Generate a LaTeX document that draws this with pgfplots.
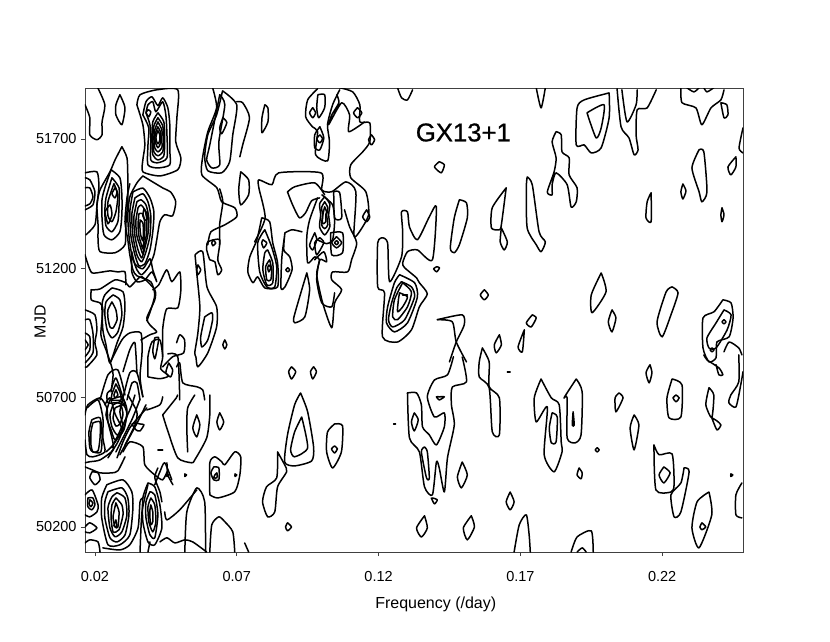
\documentclass[border=0pt]{standalone}
\usepackage{fontspec}
\setmainfont{Liberation Sans}
\newfontfamily\titlefont[FakeBold=0.7]{Liberation Sans}
\usepackage{pgfplots}
\pgfplotsset{compat=1.18}
\tikzset{ct/.style={black,line width=1.5pt,line join=round,line cap=round,smooth,tension=0.4,no markers}}
\newcommand\C[1]{\addplot[ct] coordinates {#1};}
\begin{document}
\begin{tikzpicture}
\useasboundingbox (-85pt,-89pt) rectangle (745pt,552pt);
\begin{axis}[at={(0,0)},anchor=south west,scale only axis,width=658pt,height=464pt,
 xmin=0.0165,xmax=0.2485,ymin=50103,ymax=51897,
 xtick={0.02,0.07,0.12,0.17,0.22},ytick={50200,50700,51200,51700},
 xticklabels={0.02,0.07,0.12,0.17,0.22},yticklabels={50200,50700,51200,51700},
 scaled x ticks=false,scaled y ticks=false,
 tick align=outside,xtick pos=bottom,ytick pos=left,major tick length=4pt,
 axis line style={line width=0.9pt,black!75},tick style={line width=0.7pt,black!75},
 tick label style={font=\fontsize{14.5}{16}\selectfont},
 xlabel={Frequency (/day)},ylabel={MJD},
 label style={font=\fontsize{16}{18}\selectfont},
 xlabel style={at={(axis description cs:0.533,-0.113)},anchor=center},
 ylabel style={at={(axis description cs:-0.068,0.496)},anchor=center},
 xticklabel style={yshift=-12pt},yticklabel style={xshift=-1pt},
 clip=true]
% top-left
\C{(0.0165,51832)(0.0182,51782)(0.0182,51716)(0.0207,51697)(0.0225,51716)(0.0225,51766)(0.0235,51832)(0.0210,51898)}
\C{(0.0288,51871)(0.0306,51821)(0.0295,51755)(0.0274,51793)(0.0274,51832)(0.0288,51871)}
\C{(0.0348,51832)(0.0359,51871)(0.0418,51890)(0.0492,51890)(0.0489,51782)(0.0485,51689)(0.0503,51627)(0.0492,51581)(0.0429,51557)(0.0369,51573)(0.0369,51619)(0.0376,51677)(0.0369,51755)(0.0348,51832)}
\C{(0.0369,51793)(0.0380,51844)(0.0401,51863)(0.0422,51829)(0.0439,51859)(0.0457,51821)(0.0464,51755)(0.0464,51658)(0.0464,51600)(0.0422,51588)(0.0387,51600)(0.0387,51677)(0.0390,51743)(0.0369,51793)}
\C{(0.0380,51801)(0.0387,51832)(0.0404,51844)(0.0415,51805)(0.0439,51844)(0.0450,51793)(0.0454,51716)(0.0454,51627)(0.0422,51608)(0.0397,51619)(0.0397,51697)(0.0394,51755)(0.0380,51801)}
\C{(0.0380,51801)(0.0387,51813)(0.0397,51805)(0.0390,51786)(0.0380,51801)}
\C{(0.0422,51801)(0.0443,51766)(0.0446,51697)(0.0443,51635)(0.0422,51619)(0.0404,51639)(0.0401,51704)(0.0404,51766)(0.0422,51801)}
\C{(0.0422,51782)(0.0439,51751)(0.0443,51697)(0.0439,51650)(0.0422,51635)(0.0408,51650)(0.0404,51704)(0.0408,51751)(0.0422,51782)}
\C{(0.0422,51766)(0.0436,51735)(0.0436,51697)(0.0436,51666)(0.0422,51650)(0.0411,51666)(0.0408,51704)(0.0411,51735)(0.0422,51766)}
\C{(0.0422,51747)(0.0432,51724)(0.0432,51697)(0.0429,51677)(0.0422,51666)(0.0415,51681)(0.0411,51704)(0.0415,51728)(0.0422,51747)}
\C{(0.0422,51732)(0.0429,51716)(0.0429,51697)(0.0425,51685)(0.0422,51681)(0.0418,51689)(0.0415,51704)(0.0418,51720)(0.0422,51732)}
% left peak 0.028, 51450
\C{(0.0295,51670)(0.0313,51627)(0.0316,51550)(0.0316,51465)(0.0309,51368)(0.0306,51291)(0.0271,51260)(0.0218,51264)(0.0211,51310)(0.0211,51368)(0.0207,51445)(0.0218,51503)(0.0253,51573)(0.0271,51619)(0.0295,51670)}
\C{(0.0257,51581)(0.0288,51550)(0.0295,51484)(0.0295,51407)(0.0288,51341)(0.0260,51310)(0.0232,51329)(0.0225,51395)(0.0225,51465)(0.0235,51511)(0.0257,51581)}
\C{(0.0260,51550)(0.0285,51511)(0.0285,51445)(0.0281,51380)(0.0260,51341)(0.0239,51364)(0.0235,51418)(0.0239,51472)(0.0260,51550)}
\C{(0.0267,51527)(0.0281,51484)(0.0274,51418)(0.0260,51380)(0.0246,51403)(0.0246,51457)(0.0267,51527)}
\C{(0.0271,51511)(0.0278,51496)(0.0271,51472)(0.0260,51488)(0.0271,51511)}
\C{(0.0235,51418)(0.0253,51445)(0.0260,51407)(0.0246,51372)(0.0235,51418)}
\C{(0.0165,51550)(0.0182,51542)(0.0200,51496)(0.0193,51445)(0.0165,51426)}
\C{(0.0165,51511)(0.0182,51511)(0.0193,51476)(0.0182,51449)(0.0165,51441)}
\C{(0.0165,51569)(0.0207,51573)(0.0214,51518)(0.0207,51441)(0.0200,51368)(0.0168,51329)}
\C{(0.0165,51252)(0.0176,51213)(0.0190,51182)(0.0228,51186)(0.0253,51190)(0.0281,51186)(0.0306,51186)(0.0309,51136)}
% dense column 0.037, 51300
\C{(0.0323,51527)(0.0313,51472)(0.0306,51380)(0.0316,51310)(0.0323,51252)(0.0334,51194)(0.0348,51171)(0.0397,51148)(0.0411,51097)(0.0397,51039)(0.0383,50997)}
\C{(0.0369,51557)(0.0348,51530)(0.0323,51476)(0.0316,51403)(0.0320,51325)(0.0330,51252)(0.0348,51194)(0.0365,51175)(0.0390,51206)(0.0408,51252)(0.0418,51310)(0.0429,51380)(0.0446,51407)(0.0474,51403)(0.0485,51457)(0.0467,51495)(0.0440,51510)(0.0369,51557)}
\C{(0.0334,51495)(0.0323,51418)(0.0327,51325)(0.0341,51252)(0.0355,51210)(0.0376,51217)(0.0394,51271)(0.0404,51341)(0.0408,51418)(0.0394,51472)(0.0369,51510)(0.0334,51495)}
\C{(0.0341,51472)(0.0330,51407)(0.0334,51325)(0.0348,51252)(0.0365,51225)(0.0380,51264)(0.0394,51325)(0.0397,51403)(0.0387,51457)(0.0369,51488)(0.0341,51472)}
\C{(0.0348,51457)(0.0337,51395)(0.0341,51325)(0.0352,51271)(0.0365,51240)(0.0376,51279)(0.0387,51333)(0.0390,51395)(0.0380,51445)(0.0362,51465)(0.0348,51457)}
\C{(0.0352,51434)(0.0344,51380)(0.0348,51325)(0.0359,51287)(0.0369,51256)(0.0376,51298)(0.0383,51341)(0.0383,51388)(0.0376,51426)(0.0362,51445)(0.0352,51434)}
\C{(0.0355,51411)(0.0352,51368)(0.0355,51325)(0.0362,51298)(0.0369,51275)(0.0373,51310)(0.0376,51349)(0.0376,51376)(0.0369,51411)(0.0355,51411)}
\C{(0.0359,51387)(0.0359,51349)(0.0362,51325)(0.0369,51306)(0.0371,51341)(0.0369,51376)(0.0359,51387)}
\C{(0.0330,51264)(0.0341,51217)(0.0369,51198)(0.0394,51237)(0.0404,51194)(0.0418,51148)(0.0401,51186)(0.0376,51155)(0.0348,51148)(0.0330,51186)(0.0330,51264)}
\C{(0.0373,51430)(0.0387,51404)(0.0380,51384)(0.0369,51403)(0.0373,51430)}
% centre left loop
\C{(0.0187,51117)(0.0218,51120)(0.0271,51155)(0.0309,51144)(0.0323,51128)(0.0348,51155)(0.0366,51167)(0.0411,51117)(0.0411,51078)(0.0383,51008)(0.0394,50981)(0.0418,50954)(0.0394,50943)(0.0362,50923)}
\C{(0.0187,51117)(0.0187,51078)(0.0218,51066)(0.0228,51039)(0.0221,50943)(0.0239,50885)(0.0257,50827)(0.0264,50788)(0.0257,50722)}
\C{(0.0260,51124)(0.0299,51109)(0.0306,51051)(0.0299,50973)(0.0278,50912)(0.0253,50834)(0.0239,50904)(0.0228,50962)(0.0225,51059)(0.0235,51097)(0.0260,51124)}
\C{(0.0264,51097)(0.0288,51078)(0.0295,51020)(0.0281,50954)(0.0260,50931)(0.0243,50962)(0.0235,51020)(0.0239,51070)(0.0264,51097)}
\C{(0.0260,51070)(0.0274,51039)(0.0278,51001)(0.0264,50969)(0.0253,50973)(0.0246,51008)(0.0246,51039)(0.0260,51070)}
\C{(0.0253,50834)(0.0295,50923)(0.0323,50950)(0.0362,50950)(0.0366,50873)(0.0359,50780)(0.0369,50703)}
\C{(0.0299,50800)(0.0323,50885)(0.0341,50912)(0.0348,50796)}
\C{(0.0165,51039)(0.0200,51020)(0.0207,50962)(0.0200,50912)(0.0207,50865)(0.0172,50819)(0.0165,50819)}
\C{(0.0165,51001)(0.0182,51001)(0.0193,50950)(0.0193,50873)(0.0165,50834)}
\C{(0.0165,50950)(0.0182,50935)(0.0182,50885)(0.0165,50858)}
\C{(0.0165,50923)(0.0176,50904)(0.0165,50885)}
% right of the left region
\C{(0.0404,51117)(0.0425,51136)(0.0453,51194)(0.0471,51148)(0.0499,51186)(0.0503,51117)(0.0492,51047)(0.0453,51043)(0.0439,50965)(0.0439,50858)}
\C{(0.0411,50931)(0.0425,50931)(0.0418,50881)(0.0411,50850)(0.0404,50881)(0.0411,50931)}
\C{(0.0387,50780)(0.0387,50858)(0.0401,50915)(0.0429,50923)(0.0439,50858)(0.0432,50811)(0.0460,50784)(0.0429,50773)(0.0387,50780)}
\C{(0.0460,50834)(0.0474,50807)(0.0467,50780)(0.0450,50796)(0.0460,50834)}
\C{(0.0488,50912)(0.0499,50943)(0.0516,50923)(0.0513,50873)(0.0474,50858)(0.0439,50819)}
\C{(0.0488,50819)(0.0499,50834)(0.0510,50757)(0.0559,50742)(0.0580,50730)(0.0587,50691)}
\C{(0.0457,50869)(0.0492,50858)(0.0499,50691)}
% big 0.058 loop
\C{(0.0553,51252)(0.0580,51264)(0.0595,51128)(0.0629,51051)(0.0629,50973)(0.0598,50873)(0.0563,50819)(0.0556,50858)(0.0552,50873)(0.0563,50950)(0.0570,51051)(0.0559,51182)(0.0553,51252)}
\C{(0.0587,51012)(0.0612,51028)(0.0615,51001)(0.0598,50923)(0.0577,50896)(0.0573,50935)(0.0587,51012)}
\C{(0.0563,51213)(0.0573,51194)(0.0563,51175)(0.0559,51194)(0.0563,51213)}
\C{(0.0594,51271)(0.0598,51302)(0.0640,51310)(0.0633,51233)(0.0647,51194)(0.0633,51175)(0.0623,51225)(0.0605,51233)(0.0594,51271)}
\C{(0.0616,51310)(0.0626,51298)(0.0616,51287)(0.0612,51298)(0.0616,51310)}
\C{(0.0658,50923)(0.0665,50904)(0.0658,50888)(0.0651,50904)(0.0658,50923)}
% left side 0.06 upper
\C{(0.0615,51898)(0.0629,51821)(0.0598,51728)(0.0580,51631)(0.0577,51561)(0.0630,51511)(0.0647,51457)(0.0693,51434)(0.0700,51399)(0.0658,51368)(0.0609,51341)(0.0598,51291)}
\C{(0.0640,51871)(0.0658,51832)(0.0637,51689)(0.0640,51600)(0.0612,51588)(0.0594,51619)(0.0605,51677)(0.0640,51871)}
\C{(0.0650,51886)(0.0700,51832)(0.0686,51716)(0.0675,51612)(0.0647,51569)(0.0598,51577)(0.0587,51631)(0.0598,51716)(0.0629,51793)(0.0650,51886)}
\C{(0.0651,51782)(0.0665,51763)(0.0647,51720)(0.0640,51743)(0.0651,51782)}
\C{(0.0700,51844)(0.0721,51840)(0.0745,51782)(0.0721,51677)(0.0711,51631)}
\C{(0.0714,51573)(0.0742,51542)(0.0742,51484)(0.0714,51445)(0.0707,51503)(0.0714,51573)}
\C{(0.0640,51507)(0.0651,51457)(0.0640,51372)(0.0640,51291)}
% lower left
\C{(0.0172,50660)(0.0211,50691)(0.0228,50622)(0.0228,50544)(0.0235,50490)(0.0193,50471)(0.0172,50479)(0.0165,50536)}
\C{(0.0189,50614)(0.0218,50622)(0.0225,50556)(0.0221,50490)(0.0193,50490)(0.0182,50506)(0.0179,50568)(0.0189,50614)}
\C{(0.0193,50602)(0.0218,50606)(0.0218,50544)(0.0211,50494)(0.0193,50490)(0.0186,50517)(0.0186,50568)(0.0193,50602)}
\C{(0.0165,50633)(0.0175,50672)(0.0218,50699)(0.0242,50660)(0.0246,50606)(0.0260,50544)(0.0264,50498)(0.0218,50459)(0.0182,50452)(0.0165,50448)}
\C{(0.0253,50691)(0.0295,50703)(0.0313,50652)(0.0302,50575)(0.0271,50537)(0.0257,50575)(0.0239,50633)(0.0253,50691)}
\C{(0.0264,50672)(0.0295,50684)(0.0313,50637)(0.0299,50575)(0.0278,50556)(0.0260,50587)(0.0253,50633)(0.0264,50672)}
\C{(0.0271,50660)(0.0292,50668)(0.0299,50633)(0.0288,50598)(0.0274,50590)(0.0264,50621)(0.0271,50660)}
\C{(0.0257,50730)(0.0274,50776)(0.0299,50699)(0.0306,50668)(0.0281,50680)(0.0246,50680)(0.0243,50715)(0.0257,50730)}
\C{(0.0274,50753)(0.0288,50722)(0.0292,50691)(0.0260,50691)(0.0260,50714)(0.0274,50753)}
\C{(0.0274,50730)(0.0281,50710)(0.0271,50699)(0.0267,50710)(0.0274,50730)}
\C{(0.0299,50699)(0.0323,50796)(0.0348,50796)(0.0369,50703)}
\C{(0.0313,50691)(0.0331,50757)(0.0348,50757)(0.0359,50691)}
\C{(0.0278,50467)(0.0299,50529)(0.0323,50583)(0.0352,50622)(0.0383,50660)}
\C{(0.0246,50467)(0.0281,50529)(0.0299,50583)(0.0288,50645)(0.0299,50699)}
\C{(0.0235,50672)(0.0253,50699)(0.0271,50637)(0.0295,50575)(0.0264,50517)(0.0239,50490)}
\C{(0.0316,50710)(0.0348,50645)(0.0341,50594)(0.0306,50517)}
\C{(0.0260,50506)(0.0323,50652)(0.0341,50710)}
\C{(0.0274,50490)(0.0330,50614)(0.0358,50691)}
\C{(0.0288,50479)(0.0345,50594)(0.0380,50672)}
\C{(0.0218,50691)(0.0246,50788)(0.0281,50807)(0.0306,50710)}
\C{(0.0345,50602)(0.0359,50598)(0.0373,50595)(0.0359,50571)(0.0345,50575)(0.0331,50598)(0.0345,50602)}
\C{(0.0383,50652)(0.0429,50672)(0.0439,50703)}
\C{(0.0299,50490)(0.0323,50529)(0.0369,50510)(0.0376,50440)(0.0411,50401)(0.0439,50382)(0.0457,50420)}
\C{(0.0439,50633)(0.0457,50571)(0.0492,50467)(0.0541,50448)(0.0552,50459)(0.0594,50544)(0.0605,50633)(0.0605,50710)}
\C{(0.0439,50633)(0.0487,50699)(0.0491,50710)}
\C{(0.0552,50710)(0.0527,50660)(0.0524,50583)(0.0527,50490)}
\C{(0.0559,50633)(0.0570,50595)(0.0559,50548)(0.0545,50583)(0.0559,50633)}
\C{(0.0640,50641)(0.0654,50606)(0.0640,50575)(0.0630,50606)(0.0640,50641)}
\C{(0.0422,50498)(0.0439,50498)}
% lower-left peak
\C{(0.0242,50363)(0.0299,50382)(0.0330,50336)(0.0334,50274)(0.0323,50169)(0.0288,50131)(0.0246,50131)(0.0224,50235)(0.0224,50312)(0.0242,50363)}
\C{(0.0246,50336)(0.0295,50351)(0.0316,50312)(0.0320,50247)(0.0306,50169)(0.0278,50142)(0.0253,50158)(0.0235,50235)(0.0235,50297)(0.0246,50336)}
\C{(0.0278,50332)(0.0306,50312)(0.0313,50247)(0.0295,50181)(0.0271,50162)(0.0253,50196)(0.0246,50274)(0.0260,50316)(0.0278,50332)}
\C{(0.0274,50312)(0.0295,50285)(0.0299,50247)(0.0285,50189)(0.0264,50181)(0.0257,50235)(0.0260,50285)(0.0274,50312)}
\C{(0.0274,50293)(0.0285,50258)(0.0281,50200)(0.0271,50200)(0.0264,50239)(0.0274,50293)}
\C{(0.0274,50227)(0.0278,50200)(0.0267,50204)(0.0274,50227)}
\C{(0.0165,50324)(0.0190,50343)(0.0211,50285)(0.0207,50258)(0.0182,50239)(0.0165,50247)}
\C{(0.0175,50312)(0.0193,50312)(0.0200,50285)(0.0189,50266)(0.0175,50278)(0.0175,50312)}
\C{(0.0182,50305)(0.0193,50293)(0.0186,50278)(0.0179,50289)(0.0182,50305)}
\C{(0.0165,50432)(0.0190,50421)(0.0218,50409)(0.0260,50409)(0.0281,50417)(0.0306,50471)}
\C{(0.0190,50413)(0.0211,50409)(0.0218,50382)(0.0200,50363)(0.0182,50390)(0.0190,50413)}
\C{(0.0165,50200)(0.0182,50216)(0.0207,50196)(0.0182,50177)(0.0165,50181)}
\C{(0.0165,50138)(0.0182,50150)(0.0211,50142)(0.0218,50103)}
\C{(0.0228,50119)(0.0288,50111)(0.0323,50131)(0.0352,50196)(0.0359,50297)(0.0369,50312)}
% 0.04, 50250 peak
\C{(0.0387,50370)(0.0411,50355)(0.0429,50285)(0.0436,50196)(0.0411,50131)(0.0387,50142)(0.0369,50220)(0.0369,50312)(0.0387,50370)}
\C{(0.0394,50336)(0.0411,50324)(0.0422,50247)(0.0411,50158)(0.0394,50169)(0.0380,50235)(0.0380,50297)(0.0394,50336)}
\C{(0.0397,50312)(0.0411,50285)(0.0415,50220)(0.0404,50181)(0.0390,50220)(0.0387,50278)(0.0397,50312)}
\C{(0.0397,50285)(0.0404,50258)(0.0404,50220)(0.0397,50208)(0.0394,50235)(0.0394,50266)(0.0397,50285)}
\C{(0.0359,50103)(0.0366,50258)(0.0387,50363)}
\C{(0.0387,50103)(0.0394,50142)}
\C{(0.0429,50142)(0.0454,50158)(0.0482,50138)(0.0517,50150)(0.0545,50142)(0.0594,50103)}
\C{(0.0517,50103)(0.0524,50258)(0.0559,50351)(0.0587,50297)(0.0590,50103)}
\C{(0.0446,50258)(0.0454,50227)(0.0499,50266)(0.0559,50343)}
\C{(0.0411,50363)(0.0429,50413)(0.0446,50448)(0.0471,50382)}
\C{(0.0605,50103)(0.0612,50208)(0.0637,50239)(0.0658,50220)(0.0686,50181)(0.0693,50103)}
\C{(0.0605,50324)(0.0605,50448)(0.0623,50471)(0.0647,50452)(0.0658,50440)(0.0693,50490)(0.0714,50471)(0.0711,50401)(0.0693,50336)(0.0633,50312)(0.0605,50324)}
\C{(0.0619,50432)(0.0637,50428)(0.0637,50382)(0.0619,50382)(0.0609,50409)(0.0619,50432)}
\C{(0.0623,50401)(0.0630,50409)(0.0630,50390)(0.0619,50390)(0.0623,50401)}
\C{(0.0694,50405)(0.0700,50401)(0.0694,50395)(0.0694,50405)}
\C{(0.0454,50405)(0.0460,50401)(0.0454,50395)(0.0454,50405)}
\C{(0.0517,50405)(0.0523,50401)(0.0517,50395)(0.0517,50405)}
\C{(0.0454,50448)(0.0457,50401)(0.0475,50363)}
\C{(0.0422,50428)(0.0411,50390)(0.0429,50336)(0.0436,50297)}
% upper centre
\C{(0.0799,51832)(0.0810,51820)(0.0810,51766)(0.0789,51724)(0.0789,51782)(0.0799,51832)}
\C{(0.0985,51894)(0.0950,51851)(0.0943,51786)(0.0967,51747)(0.0985,51728)(0.0978,51639)(0.1020,51615)(0.1027,51689)(0.1020,51755)(0.1038,51832)(0.1063,51890)}
\C{(0.1063,51898)(0.1109,51882)(0.1134,51832)(0.1134,51766)(0.1169,51762)(0.1169,51689)(0.1144,51650)(0.1102,51600)(0.1102,51550)(0.1155,51496)(0.1165,51407)(0.1130,51337)(0.1113,51329)(0.1120,51496)(0.1085,51534)(0.1035,51496)(0.1000,51503)(0.0997,51569)(0.0848,51569)(0.0824,51523)(0.0778,51542)(0.0778,51511)(0.0800,51395)(0.0763,51302)}
\C{(0.1053,51871)(0.1060,51840)(0.1035,51793)(0.1024,51755)(0.1070,51840)(0.1098,51793)(0.1095,51728)(0.1151,51766)}
\C{(0.0986,51871)(0.1010,51871)(0.1010,51821)(0.0989,51782)(0.0982,51821)(0.0986,51871)}
\C{(0.0968,51821)(0.0978,51801)(0.0968,51782)(0.0957,51801)(0.0968,51821)}
\C{(0.1126,51821)(0.1141,51801)(0.1126,51782)(0.1112,51801)(0.1126,51821)}
\C{(0.0993,51747)(0.1007,51704)(0.0993,51658)(0.0975,51666)(0.0975,51716)(0.0993,51747)}
\C{(0.0993,51716)(0.1003,51701)(0.0993,51685)(0.0982,51701)(0.0993,51716)}
\C{(0.1175,51716)(0.1186,51697)(0.1175,51677)(0.1165,51697)(0.1175,51716)}
\C{(0.1267,51898)(0.1281,51859)(0.1302,51851)(0.1320,51890)}
\C{(0.1158,51426)(0.1169,51399)(0.1158,51380)(0.1144,51399)(0.1158,51426)}
% 0.1 group
\C{(0.0879,51495)(0.0904,51515)(0.0975,51530)(0.1010,51484)}
\C{(0.0879,51495)(0.0897,51445)(0.0921,51395)(0.0943,51415)(0.0964,51461)(0.0992,51472)}
\C{(0.1010,51476)(0.1028,51449)(0.1024,51407)(0.1028,51360)(0.1010,51329)(0.0992,51360)(0.0996,51407)(0.0992,51449)(0.1010,51476)}
\C{(0.1010,51457)(0.1021,51434)(0.1017,51407)(0.1021,51368)(0.1010,51353)(0.0999,51368)(0.1003,51407)(0.0999,51434)(0.1010,51457)}
\C{(0.1010,51438)(0.1017,51418)(0.1014,51407)(0.1014,51380)(0.1003,51372)(0.1003,51403)(0.1010,51438)}
\C{(0.1000,51484)(0.1038,51445)(0.1045,51380)(0.1038,51310)(0.1017,51295)(0.0985,51310)}
\C{(0.1042,51496)(0.1063,51492)(0.1070,51395)(0.1045,51395)(0.1042,51496)}
\C{(0.1031,51337)(0.1073,51337)(0.1073,51260)(0.1035,51252)(0.1031,51337)}
\C{(0.1052,51322)(0.1070,51299)(0.1052,51279)(0.1035,51299)(0.1052,51322)}
\C{(0.1052,51307)(0.1059,51299)(0.1052,51291)(0.1045,51299)(0.1052,51307)}
\C{(0.0993,51318)(0.1007,51299)(0.0982,51252)(0.0975,51299)(0.0993,51318)}
\C{(0.0975,51337)(0.0982,51310)(0.0968,51271)(0.0957,51291)(0.0975,51337)}
\C{(0.1080,51426)(0.1098,51360)(0.1123,51298)(0.1105,51233)(0.1091,51186)(0.1038,51186)(0.1035,51155)(0.1070,51117)(0.1045,51066)(0.1035,50970)(0.1003,51066)(0.0982,51175)(0.0992,51233)(0.0975,51244)(0.0950,51221)(0.0947,51322)(0.0957,51387)(0.0985,51472)}
\C{(0.0975,51233)(0.1007,51264)(0.1017,51225)(0.0993,51233)(0.0982,51155)(0.1000,51066)(0.1035,51051)(0.1045,51105)}
\C{(0.0870,51337)(0.0895,51349)(0.0930,51341)}
\C{(0.0870,51337)(0.0866,51271)(0.0887,51244)(0.0895,51194)(0.0870,51128)(0.0856,51124)(0.0859,51241)(0.0870,51337)}
\C{(0.0880,51202)(0.0887,51194)(0.0880,51186)(0.0873,51194)(0.0880,51202)}
\C{(0.0947,51182)(0.0957,51117)(0.0940,51012)(0.0905,50989)(0.0901,51008)(0.0922,51090)(0.0947,51182)}
% 0.08, 51200 peak
\C{(0.0788,51395)(0.0816,51380)(0.0827,51298)(0.0844,51221)(0.0844,51128)(0.0799,51124)(0.0774,51167)(0.0757,51144)(0.0739,51186)(0.0746,51244)(0.0771,51310)(0.0788,51395)}
\C{(0.0799,51349)(0.0823,51283)(0.0841,51206)(0.0834,51128)(0.0806,51128)(0.0781,51186)(0.0774,51298)(0.0799,51349)}
\C{(0.0809,51271)(0.0827,51221)(0.0827,51144)(0.0806,51136)(0.0792,51194)(0.0799,51260)(0.0809,51271)}
\C{(0.0816,51233)(0.0823,51194)(0.0820,51155)(0.0806,51155)(0.0802,51206)(0.0816,51233)}
\C{(0.0813,51213)(0.0820,51202)(0.0813,51186)(0.0809,51202)(0.0813,51213)}
\C{(0.0792,51310)(0.0806,51298)(0.0795,51279)(0.0788,51298)(0.0792,51310)}
% 0.125 peak
\C{(0.1214,51318)(0.1197,51298)(0.1197,51128)(0.1221,51105)(0.1214,50935)(0.1267,50915)(0.1316,50962)(0.1344,51051)(0.1372,51101)(0.1344,51144)(0.1334,51163)(0.1292,51202)(0.1285,51221)(0.1302,51264)(0.1337,51271)(0.1390,51233)(0.1404,51438)(0.1379,51399)(0.1337,51310)(0.1309,51360)(0.1302,51418)(0.1281,51418)(0.1285,51341)(0.1281,51244)(0.1239,51148)(0.1232,51298)(0.1214,51318)}
\C{(0.1274,51175)(0.1327,51144)(0.1337,51089)(0.1302,50989)(0.1256,50954)(0.1228,50989)(0.1232,51051)(0.1256,51144)(0.1274,51175)}
\C{(0.1281,51148)(0.1316,51128)(0.1327,51089)(0.1292,51001)(0.1250,50973)(0.1235,51001)(0.1246,51066)(0.1264,51124)(0.1281,51148)}
\C{(0.1285,51144)(0.1316,51109)(0.1302,51051)(0.1267,51001)(0.1250,51012)(0.1256,51078)(0.1285,51144)}
\C{(0.1274,51105)(0.1302,51089)(0.1285,51051)(0.1267,51032)(0.1270,51078)(0.1274,51105)}
\C{(0.1285,51097)(0.1302,51097)}
\C{(0.1405,51206)(0.1415,51202)(0.1405,51186)(0.1394,51198)(0.1405,51206)}
% upper right
\C{(0.1485,51465)(0.1510,51453)(0.1513,51395)(0.1485,51291)(0.1467,51260)(0.1453,51279)(0.1467,51395)(0.1485,51465)}
\C{(0.1414,51612)(0.1432,51600)(0.1421,51569)(0.1397,51592)(0.1414,51612)}
\C{(0.1650,51511)(0.1633,51368)(0.1626,51349)(0.1598,51356)(0.1601,51434)(0.1650,51511)}
\C{(0.1633,51356)(0.1654,51302)(0.1643,51271)(0.1629,51302)(0.1633,51356)}
\C{(0.1724,51553)(0.1742,51523)(0.1766,51341)(0.1788,51302)(0.1773,51264)(0.1756,51291)(0.1724,51356)(0.1721,51511)(0.1724,51553)}
\C{(0.1826,51728)(0.1844,51716)(0.1847,51650)(0.1872,51627)(0.1872,51561)(0.1900,51511)(0.1897,51457)(0.1879,51437)(0.1865,51523)(0.1826,51569)(0.1812,51523)(0.1812,51484)(0.1795,51495)(0.1819,51573)(0.1826,51627)(0.1812,51689)(0.1826,51728)}
\C{(0.2013,51878)(0.2013,51782)(0.1985,51666)(0.1950,51646)(0.1925,51677)(0.1897,51677)(0.1900,51820)(0.1925,51851)(0.2013,51878)}
\C{(0.1935,51801)(0.1995,51832)(0.1985,51743)(0.1967,51704)(0.1935,51801)}
\C{(0.2041,51894)(0.2055,51747)(0.2083,51704)(0.2101,51639)(0.2115,51658)(0.2108,51716)(0.2112,51813)(0.2147,51820)(0.2179,51890)}
\C{(0.2058,51890)(0.2076,51766)(0.2108,51832)(0.2112,51890)}
\C{(0.2266,51898)(0.2270,51840)(0.2319,51820)(0.2340,51755)(0.2372,51820)(0.2407,51851)(0.2418,51890)}
\C{(0.2287,51898)(0.2312,51882)(0.2330,51898)}
\C{(0.2347,51898)(0.2358,51882)(0.2382,51898)}
\C{(0.2407,51840)(0.2428,51832)(0.2432,51793)(0.2418,51782)(0.2407,51840)}
\C{(0.1756,51898)(0.1773,51820)(0.1788,51898)}
\C{(0.2330,51658)(0.2347,51650)(0.2358,51496)(0.2340,51457)(0.2330,51496)(0.2305,51588)(0.2330,51658)}
\C{(0.2273,51526)(0.2284,51499)(0.2273,51468)(0.2266,51496)(0.2273,51526)}
\C{(0.2460,51631)(0.2460,51592)(0.2442,51561)(0.2432,51592)(0.2460,51631)}
\C{(0.2485,51743)(0.2471,51665)(0.2485,51646)}
\C{(0.2161,51492)(0.2161,51380)(0.2143,51395)(0.2147,51457)(0.2161,51492)}
\C{(0.2411,51434)(0.2418,51407)(0.2411,51380)(0.2407,51407)(0.2411,51434)}
% middle right
\C{(0.1985,51182)(0.2002,51109)(0.1953,51028)(0.1950,51097)(0.1985,51182)}
\C{(0.2023,51039)(0.2037,51008)(0.2023,50954)(0.2010,50993)(0.2023,51039)}
\C{(0.2235,51128)(0.2256,51105)(0.2231,51020)(0.2200,50935)(0.2182,50993)(0.2214,51109)(0.2235,51128)}
\C{(0.1573,51117)(0.1587,51097)(0.1573,51078)(0.1559,51097)(0.1573,51117)}
\C{(0.1407,51001)(0.1495,51020)(0.1502,50981)(0.1474,50915)(0.1450,50838)}
\C{(0.1407,51001)(0.1460,50993)(0.1474,50915)(0.1510,50838)}
\C{(0.1742,51020)(0.1756,51008)(0.1738,50973)(0.1721,50989)(0.1742,51020)}
\C{(0.1714,50962)(0.1707,50877)(0.1692,50896)(0.1714,50962)}
\C{(0.1626,50943)(0.1633,50904)(0.1615,50873)(0.1608,50904)(0.1626,50943)}
\C{(0.2414,51078)(0.2443,51066)(0.2450,51008)(0.2436,50935)(0.2393,50915)(0.2390,50854)(0.2365,50838)(0.2344,50892)(0.2344,51008)(0.2383,51032)(0.2414,51078)}
\C{(0.2418,51039)(0.2443,51020)(0.2429,50962)(0.2390,50892)(0.2365,50892)(0.2358,50931)(0.2390,50989)(0.2418,51039)}
\C{(0.2418,51001)(0.2425,50993)(0.2418,50985)(0.2411,50993)(0.2418,51001)}
\C{(0.2376,50892)(0.2383,50885)(0.2376,50877)(0.2369,50885)(0.2376,50892)}
\C{(0.2418,50877)(0.2436,50915)(0.2470,50892)(0.2481,50865)}
\C{(0.2470,50865)(0.2470,50761)(0.2442,50710)(0.2435,50680)(0.2460,50664)(0.2477,50749)(0.2485,50800)}
% lower centre
\C{(0.0893,50819)(0.0908,50800)(0.0893,50772)(0.0883,50800)(0.0893,50819)}
\C{(0.0971,50819)(0.0981,50800)(0.0968,50772)(0.0960,50800)(0.0971,50819)}
\C{(0.0925,50718)(0.0950,50645)(0.0971,50509)(0.0964,50455)(0.0904,50436)(0.0869,50451)(0.0879,50556)(0.0904,50672)(0.0925,50718)}
\C{(0.0929,50625)(0.0950,50506)(0.0904,50471)(0.0890,50498)(0.0904,50567)(0.0929,50625)}
\C{(0.0844,50490)(0.0869,50440)(0.0876,50413)(0.0844,50355)(0.0834,50258)(0.0809,50239)(0.0791,50297)(0.0805,50355)(0.0841,50390)(0.0844,50490)}
\C{(0.1045,50598)(0.1073,50591)(0.1069,50490)(0.1038,50428)(0.1017,50490)(0.1020,50567)(0.1045,50598)}
\C{(0.1045,50513)(0.1055,50502)(0.1045,50486)(0.1034,50502)(0.1045,50513)}
\C{(0.0879,50216)(0.0893,50200)(0.0879,50185)(0.0872,50200)(0.0879,50216)}
\C{(0.1253,50598)(0.1260,50598)}
\C{(0.0728,50138)(0.0742,50103)}
% 0.14 complex
\C{(0.1302,50718)(0.1334,50718)(0.1351,50672)(0.1355,50587)(0.1379,50556)(0.1404,50517)(0.1432,50587)(0.1432,50641)(0.1397,50625)(0.1372,50703)(0.1397,50768)(0.1443,50788)(0.1464,50858)}
\C{(0.1495,50857)(0.1510,50761)(0.1460,50741)(0.1457,50672)(0.1467,50594)(0.1443,50467)(0.1432,50335)(0.1414,50428)(0.1404,50451)(0.1390,50324)(0.1362,50355)(0.1344,50490)(0.1309,50544)(0.1302,50718)}
\C{(0.1326,50641)(0.1340,50614)(0.1326,50571)(0.1316,50606)(0.1326,50641)}
\C{(0.1414,50703)(0.1432,50703)(0.1414,50691)(0.1404,50703)(0.1414,50703)}
\C{(0.1362,50509)(0.1372,50490)(0.1379,50390)(0.1369,50390)(0.1351,50490)(0.1362,50509)}
\C{(0.1390,50312)(0.1407,50305)(0.1397,50289)(0.1386,50312)}
\C{(0.1362,50243)(0.1372,50196)(0.1351,50161)(0.1334,50196)(0.1362,50243)}
\C{(0.1527,50243)(0.1538,50200)(0.1513,50150)(0.1499,50196)(0.1527,50243)}
\C{(0.1495,50451)(0.1513,50401)(0.1492,50351)(0.1478,50393)(0.1495,50451)}
\C{(0.1566,50892)(0.1555,50838)(0.1555,50780)(0.1590,50738)(0.1601,50568)(0.1626,50556)(0.1626,50699)(0.1590,50742)(0.1590,50838)(0.1566,50892)}
% lower right
\C{(0.1773,50772)(0.1809,50699)(0.1837,50672)(0.1844,50529)(0.1847,50490)(0.1819,50413)(0.1784,50479)(0.1795,50664)(0.1756,50606)(0.1749,50699)(0.1773,50772)}
\C{(0.1812,50641)(0.1830,50625)(0.1826,50529)(0.1809,50525)(0.1802,50583)(0.1812,50641)}
\C{(0.1897,50772)(0.1918,50722)(0.1914,50556)(0.1893,50525)(0.1865,50544)(0.1865,50699)(0.1854,50699)(0.1897,50772)}
\C{(0.1886,50645)(0.1890,50594)(0.1883,50594)(0.1886,50645)}
\C{(0.1971,50506)(0.1978,50498)(0.1971,50490)(0.1964,50498)(0.1971,50506)}
\C{(0.1907,50428)(0.1918,50409)(0.1914,50386)(0.1900,50401)(0.1907,50428)}
\C{(0.2157,50827)(0.2164,50796)(0.2154,50757)(0.2143,50796)(0.2157,50827)}
\C{(0.2048,50718)(0.2062,50699)(0.2037,50645)(0.2034,50699)(0.2048,50718)}
\C{(0.2101,50633)(0.2118,50594)(0.2101,50498)(0.2087,50583)(0.2101,50633)}
\C{(0.2235,50772)(0.2270,50749)(0.2266,50625)(0.2224,50622)(0.2217,50699)(0.2235,50772)}
\C{(0.2249,50710)(0.2260,50699)(0.2249,50684)(0.2238,50699)(0.2249,50710)}
\C{(0.2365,50738)(0.2382,50710)(0.2375,50622)(0.2354,50672)(0.2365,50738)}
\C{(0.2375,50622)(0.2393,50575)(0.2407,50594)(0.2393,50610)(0.2375,50622)}
\C{(0.2347,50865)(0.2358,50846)(0.2400,50815)(0.2414,50788)(0.2400,50788)(0.2390,50827)}
\C{(0.2171,50517)(0.2189,50479)(0.2235,50482)(0.2242,50363)(0.2231,50335)(0.2178,50343)(0.2171,50517)}
\C{(0.2206,50432)(0.2228,50409)(0.2206,50370)(0.2189,50401)(0.2206,50432)}
\C{(0.2277,50428)(0.2295,50413)(0.2266,50258)(0.2242,50239)(0.2231,50324)(0.2266,50370)(0.2277,50428)}
\C{(0.2365,50335)(0.2375,50247)(0.2330,50119)(0.2305,50196)(0.2323,50297)(0.2365,50335)}
\C{(0.2340,50216)(0.2354,50200)(0.2340,50189)(0.2333,50200)(0.2340,50216)}
\C{(0.2442,50405)(0.2449,50401)(0.2442,50395)(0.2442,50405)}
\C{(0.2481,50370)(0.2460,50324)(0.2460,50247)(0.2481,50235)}
\C{(0.1664,50335)(0.1678,50297)(0.1664,50266)(0.1650,50297)(0.1664,50335)}
\C{(0.1678,50103)(0.1696,50208)(0.1721,50247)(0.1731,50169)(0.1735,50103)}
\C{(0.1879,50103)(0.1900,50161)(0.1950,50185)(0.1957,50103)}
\C{(0.1900,50103)(0.1918,50119)(0.1932,50103)}
\C{(0.1654,50799)(0.1664,50799)}
\node[font=\titlefont\fontsize{25.7}{28}\selectfont] at (axis cs:0.1499,51725) {GX13+1};
\end{axis}
\end{tikzpicture}
\end{document}
